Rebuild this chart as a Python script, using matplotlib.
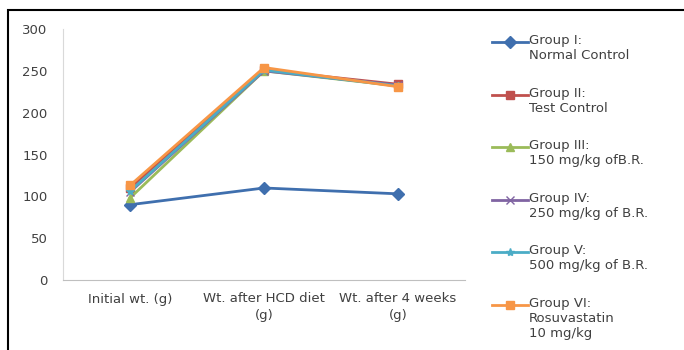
import matplotlib
matplotlib.use("Agg")
import matplotlib.pyplot as plt
from matplotlib.patches import Rectangle
from matplotlib.lines import Line2D

categories = ["Initial wt. (g)", "Wt. after HCD diet\n(g)", "Wt. after 4 weeks\n(g)"]
group_names = ["Group I:\nNormal Control",
               "Group II:\nTest Control",
               "Group III:\n150 mg/kg ofB.R.",
               "Group IV:\n250 mg/kg of B.R.",
               "Group V:\n500 mg/kg of B.R.",
               "Group VI:\nRosuvastatin\n10 mg/kg"]
group1 = [90, 110, 103]
group2 = [110, 251, 234]
group3 = [98, 250, 232]
group4 = [105, 250, 233]
group5 = [106, 251, 232]
group6 = [113, 254, 231]
yticks = [0, 50, 100, 150, 200, 250, 300]

colors = ["#3F6FAE", "#C0504D", "#9BBB59", "#8064A2", "#4BACC6", "#F79646"]
markers = ["D", "s", "^", "x", "*", "s"]

fig = plt.figure(figsize=(6.84, 3.5), dpi=100)
ax = fig.add_axes([0.092, 0.2, 0.588, 0.717])

x = range(len(categories))
all_groups = [group1, group2, group3, group4, group5, group6]
for vals, name, c, m in zip(all_groups, group_names, colors, markers):
    ax.plot(x, vals, color=c, marker=m, markersize=6, lw=2, label=name,
            markeredgecolor=c)

ax.set_xlim(-0.5, 2.5)
ax.set_ylim(0, 300)
ax.set_yticks(yticks)
ax.set_xticks(list(x))
ax.set_xticklabels(categories, fontsize=9.5, color="#404040", linespacing=1.3)
ax.tick_params(axis="y", labelsize=9.5, labelcolor="#404040", length=0, pad=11)
ax.tick_params(axis="x", length=0, pad=9)
for s in ["top", "right"]:
    ax.spines[s].set_visible(False)
ax.spines["left"].set_color("#d9d9d9")
ax.spines["bottom"].set_color("#bfbfbf")

# legend like Excel: marker line sits beside the first text line
W, H = 684, 350
for i, (name, c, m) in enumerate(zip(group_names, colors, markers)):
    ypix = 42 + i * 52.6
    yf = 1 - ypix / H
    fig.add_artist(Line2D([492 / W, 528 / W], [yf, yf], color=c, lw=2,
                          transform=fig.transFigure))
    fig.add_artist(Line2D([510 / W], [yf], color=c, marker=m, markersize=6,
                          markeredgecolor=c, transform=fig.transFigure))
    fig.text(529 / W, yf + 8 / H, name, fontsize=9.5, color="#404040",
             va="top", ha="left", linespacing=1.2)

# black frame around the picture
fig.patches.append(Rectangle((8 / 684, -0.05), 1.0, 1 - 10 / 350 + 0.05,
                             transform=fig.transFigure, fill=False,
                             edgecolor="black", lw=1.5))

fig.savefig("out.png", dpi=100)
